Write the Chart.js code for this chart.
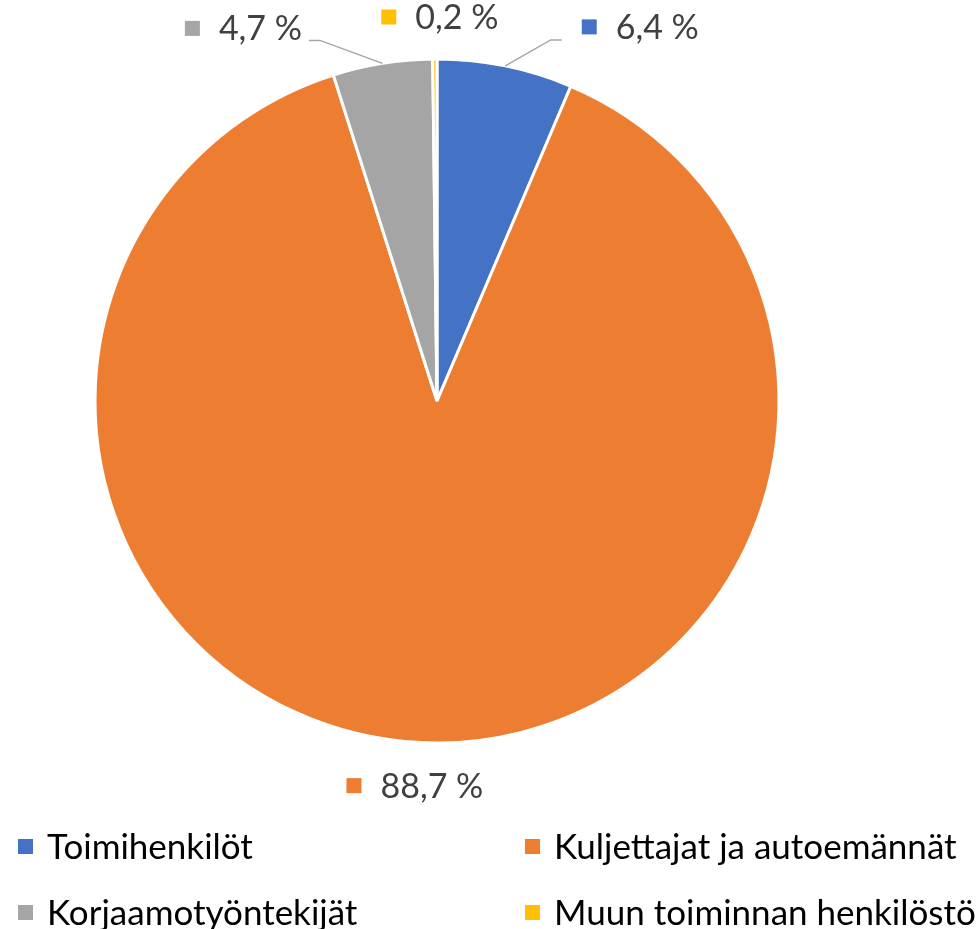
<!DOCTYPE html>
<html>
<head>
<meta charset="utf-8">
<script src="https://cdn.jsdelivr.net/npm/chart.js@4"></script>
<style>
  html, body { margin: 0; padding: 0; background: #fff; }
  #wrap { width: 979px; height: 929px; }
</style>
</head>
<body>
<div id="wrap"><canvas id="pieChart" width="979" height="929"></canvas></div>
<script>
// chart data
const categories = ['Toimihenkilöt', 'Kuljettajat ja autoemännät', 'Korjaamotyöntekijät', 'Muun toiminnan henkilöstö'];
const shares = [6.4, 88.7, 4.7, 0.2];
const valueLabels = ['6,4 %', '88,7 %', '4,7 %', '0,2 %'];
const sliceColors = ['#4472C4', '#ED7D31', '#A5A5A5', '#FFC000'];

// label offsets from the slice's outer mid point (dx, dy) and leader side
const labelOffsets = [
    { dx: 135, dy: -39, leader: 'left' },
    { dx: -6, dy: 43, leader: null },
    { dx: -139, dy: -35, leader: 'right' },
    { dx: 5, dy: -42, leader: null }
];

const labelFont = '34px Lato, "Open Sans", sans-serif';
const legendFont = '35px Lato, "Open Sans", sans-serif';

// draws the value labels with small colour keys and leader lines
const sliceLabels = {
    id: 'sliceLabels',
    afterDraw(chart) {
        const ctx = chart.ctx;
        const arcs = chart.getDatasetMeta(0).data;
        ctx.save();
        ctx.font = labelFont;
        ctx.textBaseline = 'middle';
        arcs.forEach((arc, i) => {
            const mid = (arc.startAngle + arc.endAngle) / 2;
            const ax = arc.x + Math.cos(mid) * arc.outerRadius;
            const ay = arc.y + Math.sin(mid) * arc.outerRadius;
            const off = labelOffsets[i];
            const text = valueLabels[i];
            const tw = ctx.measureText(text).width;
            const box = 15, gap = 19;
            const total = box + gap + tw;
            const cx = ax + off.dx, cy = ay + off.dy;
            const left = cx - total / 2;

            // leader line
            if (off.leader) {
                ctx.strokeStyle = '#A6A6A6';
                ctx.lineWidth = 1.5;
                ctx.beginPath();
                ctx.moveTo(ax, ay);
                if (off.leader === 'left') {
                    ctx.lineTo(left - 31, cy + 13);
                    ctx.lineTo(left - 20, cy + 13);
                } else {
                    ctx.lineTo(left + total + 18, cy + 12);
                    ctx.lineTo(left + total + 7, cy + 12);
                }
                ctx.stroke();
            }

            ctx.fillStyle = sliceColors[i];
            ctx.fillRect(left, cy - box / 2, box, box);
            ctx.fillStyle = '#404040';
            ctx.textAlign = 'left';
            ctx.fillText(text, left + box + gap, cy + 1);
        });
        ctx.restore();
    }
};

// two column legend under the pie
const gridLegend = {
    id: 'gridLegend',
    afterDraw(chart) {
        const ctx = chart.ctx;
        const colX = [18, 525];
        const rowY = [847, 913];
        ctx.save();
        ctx.font = legendFont;
        ctx.textBaseline = 'middle';
        ctx.textAlign = 'left';
        categories.forEach((name, i) => {
            const x = colX[i % 2];
            const y = rowY[Math.floor(i / 2)];
            ctx.fillStyle = sliceColors[i];
            ctx.fillRect(x, y - 8, 15, 15);
            ctx.fillStyle = '#000000';
            ctx.fillText(name, x + 29, y + 1);
        });
        ctx.restore();
    }
};

new Chart(document.getElementById('pieChart'), {
    type: 'pie',
    data: {
        labels: categories,
        datasets: [{
            data: shares,
            backgroundColor: sliceColors,
            borderColor: '#FFFFFF',
            borderWidth: 3,
            radius: 342
        }]
    },
    options: {
        responsive: false,
        animation: false,
        layout: {
            padding: { left: 96, right: 201, top: 60, bottom: 187 }
        },
        plugins: {
            legend: { display: false },
            tooltip: { enabled: false },
            title: { display: false }
        }
    },
    plugins: [sliceLabels, gridLegend]
});
</script>
</body>
</html>
